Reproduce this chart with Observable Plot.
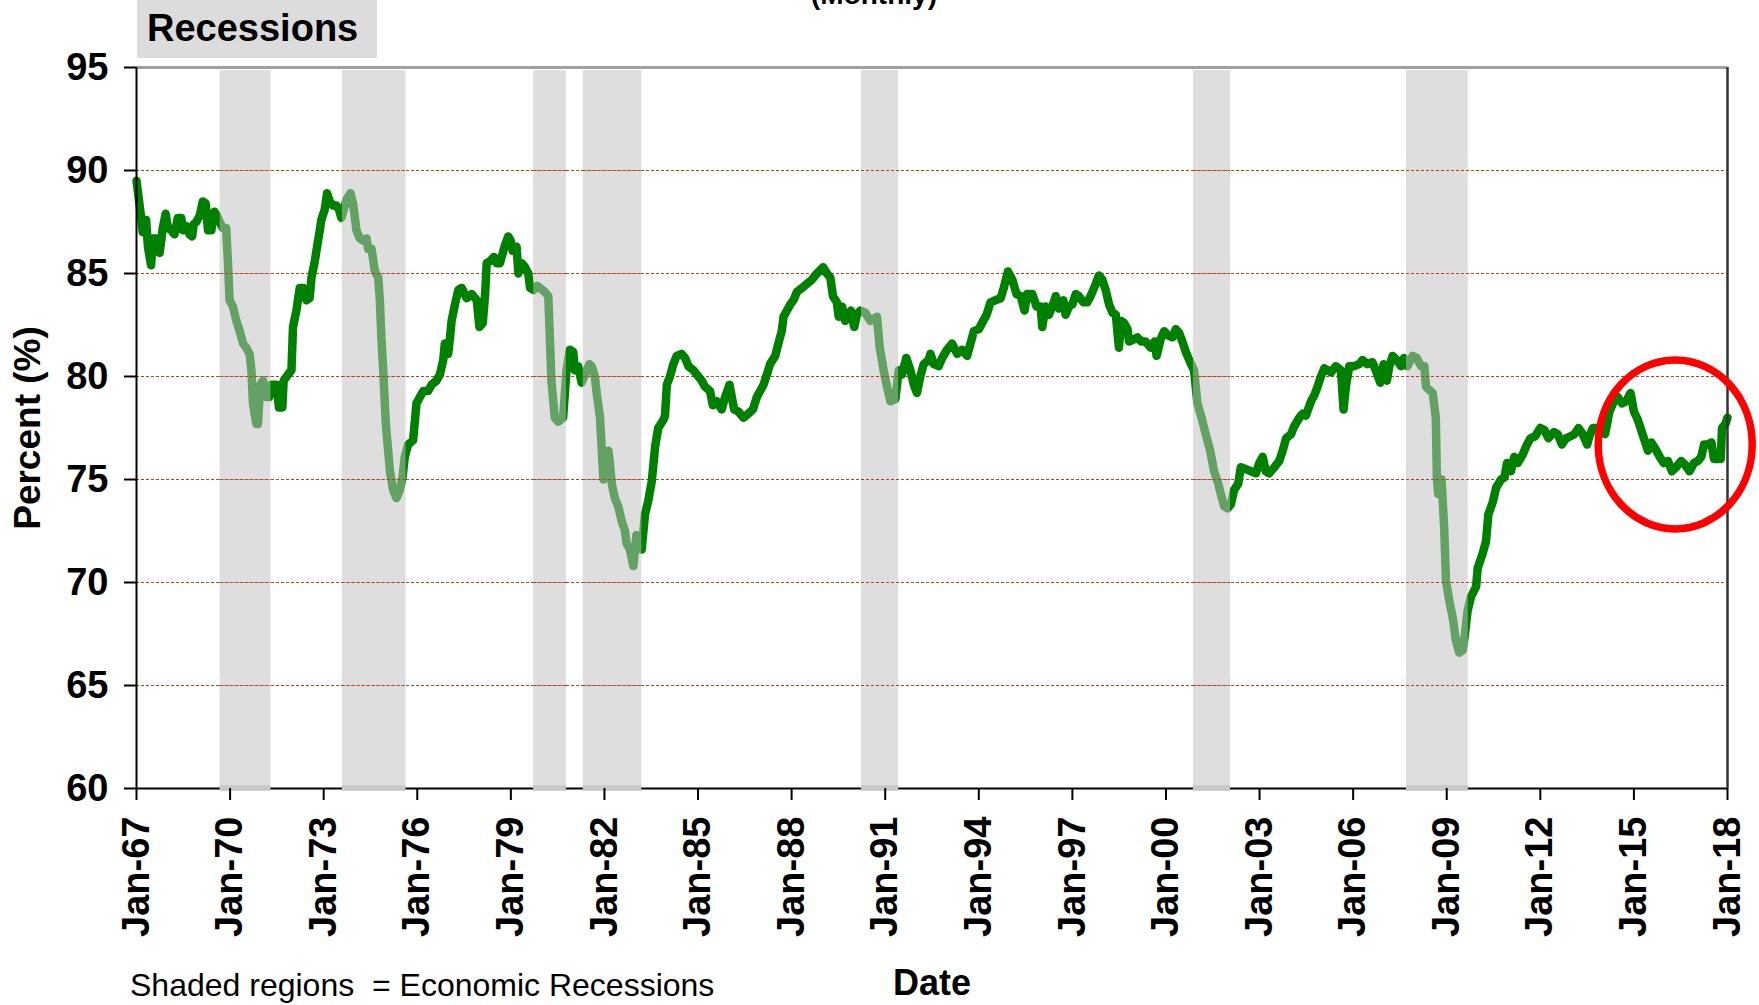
<!DOCTYPE html>
<html>
<head>
<meta charset="utf-8">
<script src="https://cdn.jsdelivr.net/npm/d3@7"></script>
<script src="https://cdn.jsdelivr.net/npm/@observablehq/plot@0.6"></script>
<style>
  html, body { margin: 0; padding: 0; background: #fff; }
  #chart { width: 1759px; height: 1005px; overflow: hidden; }
</style>
</head>
<body>
<div id="chart"></div>
<script>
// Capacity utilization readings: [months since Jan-1967, percent]
const readings = [
  [0,89.5],[1.8,87.7],[2.4,87.0],[3.0,87.6],[3.7,87.6],[4.4,86.3],[5.6,85.4],[6.3,86.7],[7.6,86.7],[8.9,86.0],
  [10.1,87.2],[11.2,87.9],[12.1,87.2],[13.4,87.1],[14.6,86.9],[15.9,87.7],[17.2,87.7],[17.8,87.1],[19.1,87.3],[20.4,86.9],
  [21.4,86.8],[22.0,87.4],[23.0,87.5],[24.3,87.8],[25.5,88.5],[26.6,88.4],[27.5,87.1],[28.8,87.1],[29.4,87.7],[30.0,88.0],
  [31.0,87.8],[32.0,87.5],[33.2,87.2],[34.5,87.2],[35.2,85.5],[35.8,83.7],[37.1,83.4],[38.4,82.7],[39.7,82.2],[41.0,81.6],
  [42.2,81.4],[43.5,81.1],[44.2,80.3],[44.8,78.7],[46.1,77.7],[46.7,77.7],[47.6,79.6],[48.7,79.8],[50.0,79.0],[51.0,79.0],
  [51.9,79.6],[53.8,79.6],[54.8,78.5],[56.1,78.5],[56.6,79.8],[58.3,80.1],[59.6,80.3],[60.2,82.4],[61.5,83.2],[62.8,84.3],
  [64.1,84.3],[65.4,83.7],[66.6,83.8],[67.3,84.8],[68.6,85.6],[69.2,86.1],[70.5,87.1],[71.1,87.6],[72.4,88.1],[73.3,88.9],
  [74.3,88.5],[75.6,88.3],[76.9,88.3],[77.9,88.1],[78.8,87.7],[79.5,88.0],[80.8,88.6],[82.3,88.9],[83.3,88.4],[84.6,87.1],
  [85.9,86.7],[87.2,86.6],[88.5,86.7],[89.1,86.2],[90.4,86.2],[91.7,85.1],[93.0,84.8],[93.6,83.7],[94.2,81.9],[94.9,80.3],
  [95.9,77.7],[96.8,76.4],[97.5,75.4],[98.7,74.5],[100.0,74.1],[101.3,74.5],[102.3,75.1],[103.2,76.1],[104.5,76.7],[106.4,76.9],
  [107.7,78.7],[109.0,79.0],[110.3,79.3],[112.2,79.3],[113.5,79.6],[115.4,79.8],[116.7,80.1],[118.0,80.8],[118.6,81.6],[119.9,81.1],
  [120.6,81.9],[121.2,82.7],[122.5,83.5],[123.8,84.2],[125.1,84.3],[127.0,83.8],[128.9,84.0],[130.9,83.7],[131.9,82.4],[133.2,82.6],
  [134.1,84.0],[134.7,85.5],[136.0,85.6],[137.5,85.8],[138.5,85.5],[139.8,85.5],[140.9,86.0],[141.8,86.4],[143.0,86.8],[143.9,86.6],
  [144.7,86.1],[146.2,86.3],[146.9,85.0],[148.2,85.5],[149.5,85.3],[150.7,85.0],[151.4,84.3],[152.7,84.2],[154.0,84.4],[155.2,84.3],
  [157.1,84.1],[158.4,83.9],[159.0,81.9],[159.6,79.8],[160.9,78.0],[162.2,77.8],[164.1,78.0],[165.4,80.3],[166.7,81.3],[168.0,81.2],
  [168.6,80.3],[169.9,80.5],[171.2,79.7],[172.5,80.1],[174.2,80.6],[175.1,80.5],[176.3,80.0],[177.0,79.2],[178.3,78.0],[178.9,76.6],
  [179.6,75.0],[181.5,76.4],[182.1,75.8],[182.8,74.8],[184.0,74.1],[185.3,73.7],[186.6,73.0],[187.9,72.5],[188.5,71.9],[189.8,71.6],
  [191.1,70.8],[192.3,72.3],[193.3,72.2],[194.3,71.6],[195.6,73.3],[196.9,74.0],[198.2,74.9],[199.5,76.6],[200.7,77.5],[202.7,77.9],
  [203.3,78.1],[204.0,79.6],[205.2,80.0],[206.5,80.6],[207.8,81.0],[209.7,81.1],[211.0,80.9],[212.3,80.5],[214.2,80.3],[215.5,80.1],
  [217.4,79.8],[218.7,79.5],[220.6,79.3],[221.7,78.6],[223.2,78.8],[225.1,78.4],[226.4,79.0],[228.1,79.6],[229.0,79.0],[229.9,78.4],
  [231.5,78.3],[233.5,78.0],[235.4,78.2],[237.1,78.4],[238.6,79.0],[239.9,79.3],[241.2,79.6],[242.5,80.1],[243.7,80.6],[245.7,81.0],
  [246.9,81.6],[248.2,82.2],[248.9,82.9],[250.2,83.2],[251.5,83.5],[252.7,83.7],[254.0,84.1],[256.0,84.3],[257.9,84.5],[259.8,84.7],
  [261.7,85.0],[264.1,85.3],[265.6,85.0],[266.9,84.8],[267.9,83.9],[269.4,83.6],[270.1,82.9],[271.4,83.4],[272.6,82.7],[273.9,83.0],
  [274.8,83.2],[276.1,82.4],[277.1,83.0],[278.4,83.2],[280.3,83.1],[282.3,82.7],[284.8,82.9],[285.9,81.4],[287.4,80.3],[288.7,79.5],
  [290.0,78.8],[291.9,78.9],[293.2,80.3],[294.5,80.1],[296.1,80.9],[297.7,80.3],[299.0,79.6],[300.2,79.2],[301.5,80.0],[302.8,80.6],
  [304.7,80.8],[305.4,81.1],[306.7,80.6],[308.6,80.5],[309.9,80.9],[311.8,81.3],[313.7,81.6],[315.7,81.1],[317.6,81.3],[319.5,81.0],
  [320.8,81.6],[322.1,82.2],[324.0,82.3],[325.7,82.7],[327.0,83.0],[328.5,83.6],[330.4,83.7],[332.4,83.8],[333.6,84.3],[335.2,85.1],
  [336.9,84.7],[338.5,84.0],[340.1,83.9],[341.6,83.2],[342.6,84.0],[344.6,84.0],[346.2,83.4],[347.8,83.4],[348.4,82.4],[349.7,83.4],
  [351.0,83.0],[352.3,83.4],[353.6,83.9],[354.8,83.3],[356.5,83.7],[357.4,83.0],[358.7,83.4],[360.0,83.5],[361.3,84.0],[362.5,83.9],
  [364.2,83.6],[365.7,83.6],[367.0,83.9],[369.0,84.5],[370.2,84.9],[371.5,84.7],[372.8,84.2],[374.1,83.5],[375.4,83.1],[376.7,83.0],
  [377.9,81.4],[378.8,82.7],[379.9,82.6],[381.2,82.3],[381.8,81.7],[383.7,81.8],[385.0,81.9],[386.5,81.7],[388.2,81.7],[390.1,81.4],
  [391.7,81.7],[392.4,81.0],[393.9,81.8],[395.3,82.2],[396.8,82.0],[398.5,81.9],[399.8,82.3],[401.1,82.1],[402.3,81.7],[403.6,81.2],
  [405.3,80.7],[406.8,80.3],[408.1,78.7],[409.7,78.0],[411.3,77.2],[413.0,76.4],[414.5,75.4],[416.1,74.8],[417.1,74.3],[418.4,73.7],
  [419.7,73.6],[421.0,73.8],[422.2,74.5],[423.8,74.8],[424.8,75.6],[426.7,75.5],[428.7,75.4],[430.6,75.3],[431.9,75.8],[433.2,76.1],
  [434.4,75.4],[435.7,75.3],[437.7,75.6],[439.6,75.9],[440.9,76.4],[442.2,77.0],[444.1,77.2],[445.4,77.6],[447.3,78.0],[448.6,78.2],
  [449.8,78.1],[451.8,78.8],[453.1,79.1],[454.3,79.5],[455.6,80.0],[456.9,80.4],[458.2,80.3],[459.5,80.2],[461.3,80.5],[463.3,80.3],
  [464.3,78.4],[465.2,79.5],[466.5,80.5],[468.4,80.5],[470.3,80.6],[471.6,80.8],[473.5,80.6],[475.4,80.7],[476.7,80.3],[478.4,79.7],
  [479.7,80.6],[481.0,79.8],[481.9,80.5],[483.2,81.0],[484.8,80.8],[486.4,80.5],[487.6,80.9],[488.9,80.5],[490.9,81.0],[492.5,80.9],
  [494.1,80.5],[495.4,80.5],[496.0,79.5],[497.7,79.3],[498.6,79.2],[499.8,78.0],[500.2,75.1],[500.7,74.3],[502.0,75.0],[503.0,72.7],
  [503.7,70.1],[505.0,69.1],[506.3,68.3],[507.5,67.2],[508.8,66.6],[510.1,66.7],[510.8,67.3],[512.0,68.6],[513.3,69.3],[515.3,69.8],
  [515.9,70.7],[517.8,71.4],[519.1,72.0],[520.0,73.3],[521.7,73.9],[523.0,74.6],[524.9,75.0],[526.2,75.1],[527.2,75.8],[528.7,75.4],
  [530.0,76.1],[531.3,75.8],[533.2,76.2],[534.5,76.6],[536.2,77.0],[538.0,77.1],[540.0,77.5],[541.6,77.4],[543.1,77.0],[545.2,77.3],
  [546.7,77.2],[548.3,76.7],[549.9,77.0],[551.6,77.1],[553.1,77.2],[554.7,77.5],[556.3,77.2],[558.0,76.7],[558.9,77.1],[560.2,77.5],
  [562.1,77.5],[564.1,77.6],[564.9,77.2],[566.6,78.3],[568.3,78.8],[569.8,79.0],[571.4,78.7],[573.1,78.8],[574.7,79.2],[576.0,78.3],
  [577.5,77.9],[578.8,77.4],[580.1,76.9],[581.4,76.4],[582.7,76.8],[584.2,76.5],[585.9,76.1],[587.5,75.8],[589.1,75.9],[590.6,75.4],
  [592.3,75.6],[594.2,75.9],[595.8,75.7],[597.4,75.4],[599.1,75.8],[600.6,75.9],[601.9,76.1],[603.0,76.7],[604.5,76.7],[605.8,76.8],
  [606.8,76.0],[608.3,76.0],[609.4,76.0],[609.9,77.5],[611.2,77.7],[612.0,78.0]
];

// Recession shading (decimal years, as drawn)
const recessionStart = [1969.68, 1973.60, 1979.73, 1981.32, 1990.24, 2000.88, 2007.71];
const recessionEnd   = [1971.31, 1975.64, 1980.78, 1983.20, 1991.43, 2002.07, 2009.69];

// Axis ticks
const xTicks = [1967,1970,1973,1976,1979,1982,1985,1988,1991,1994,1997,2000,2003,2006,2009,2012,2015,2018];
const yTicks = [60,65,70,75,80,85,90,95];
const gridValues = [65,70,75,80,85,90];

// Highlight circle around the latest period
const highlight = {year: 2016.34, value: 76.68};

const series = readings.map(([m, v]) => ({year: 1967 + m / 12, value: v}));
const recessions = recessionStart.map((s, i) => ({start: s, end: recessionEnd[i]}));
const recessionGrid = recessions.flatMap(r => gridValues.map(g => ({start: r.start, end: r.end, value: g})));

const gridColor = "#b5441b";

const chart = Plot.plot({
  width: 1759,
  height: 1005,
  marginLeft: 136,
  marginRight: 32,
  marginTop: 67,
  marginBottom: 217,
  style: {fontFamily: "'Liberation Sans', Arial, sans-serif", background: "#fff", color: "#000"},
  x: {type: "linear", domain: [1967, 2018]},
  y: {domain: [60, 95]},
  marks: [
    Plot.gridY(gridValues, {stroke: gridColor, strokeOpacity: 1, strokeWidth: 1.2, strokeDasharray: "3,2"}),
    Plot.line(series, {x: "year", y: "value", stroke: "#008000", strokeWidth: 8.5}),
    Plot.rect(recessions, {x1: "start", x2: "end", y1: 60, y2: 94.85, fill: "#c0c0c0", fillOpacity: 0.52}),
    Plot.ruleY(recessionGrid, {x1: "start", x2: "end", y: "value", stroke: gridColor, strokeWidth: 1.2, strokeDasharray: "3,2"}),
    Plot.ruleY([60], {stroke: "#000", strokeWidth: 2}),
    Plot.rect(recessions, {x1: "start", x2: "end", y1: 59.86, y2: 60.14, fill: "#c8c8c8"}),
    Plot.ruleY([95], {stroke: "#a0a0a0", strokeWidth: 3}),
    Plot.ruleX([2018], {stroke: "#333", strokeWidth: 2.5}),
    Plot.ruleX([1967], {stroke: "#000", strokeWidth: 2}),
    Plot.axisY({ticks: yTicks, tickSize: 12, tickPadding: 16, fontSize: 38, fontWeight: "bold", label: null, strokeWidth: 2}),
    Plot.axisX({ticks: xTicks, tickFormat: d => "Jan-" + String(d % 100).padStart(2, "0"), tickRotate: -90,
      tickSize: 12, tickPadding: 16, fontSize: 38, fontWeight: "bold", label: null, strokeWidth: 2})
  ]
});

document.getElementById("chart").appendChild(chart);

const svg = d3.select(chart);
const sx = chart.scale("x"), sy = chart.scale("y");

svg.append("ellipse")
  .attr("cx", sx.apply(highlight.year))
  .attr("cy", sy.apply(highlight.value))
  .attr("rx", 77).attr("ry", 84.5)
  .attr("fill", "none").attr("stroke", "#ff0000").attr("stroke-width", 7.5);

// Titles and notes
svg.append("rect").attr("x", 137).attr("y", -10).attr("width", 240).attr("height", 68).attr("fill", "#dcdcdc");
svg.append("text").attr("x", 147).attr("y", 41).attr("text-anchor", "start")
  .attr("font-size", 38).attr("font-weight", "bold").text("Recessions");
svg.append("text").attr("x", 874).attr("y", 4).attr("text-anchor", "middle")
  .attr("font-size", 28).attr("font-weight", "bold").text("(Monthly)");
svg.append("text").attr("transform", "translate(40,428) rotate(-90)").attr("text-anchor", "middle")
  .attr("font-size", 37).attr("font-weight", "bold").text("Percent (%)");
svg.append("text").attr("x", 932).attr("y", 995).attr("text-anchor", "middle")
  .attr("font-size", 36).attr("font-weight", "bold").text("Date");
svg.append("text").attr("x", 130).attr("y", 996).attr("text-anchor", "start")
  .attr("font-size", 32).style("white-space", "pre")
  .text("Shaded regions  = Economic Recessions");
</script>
</body>
</html>
